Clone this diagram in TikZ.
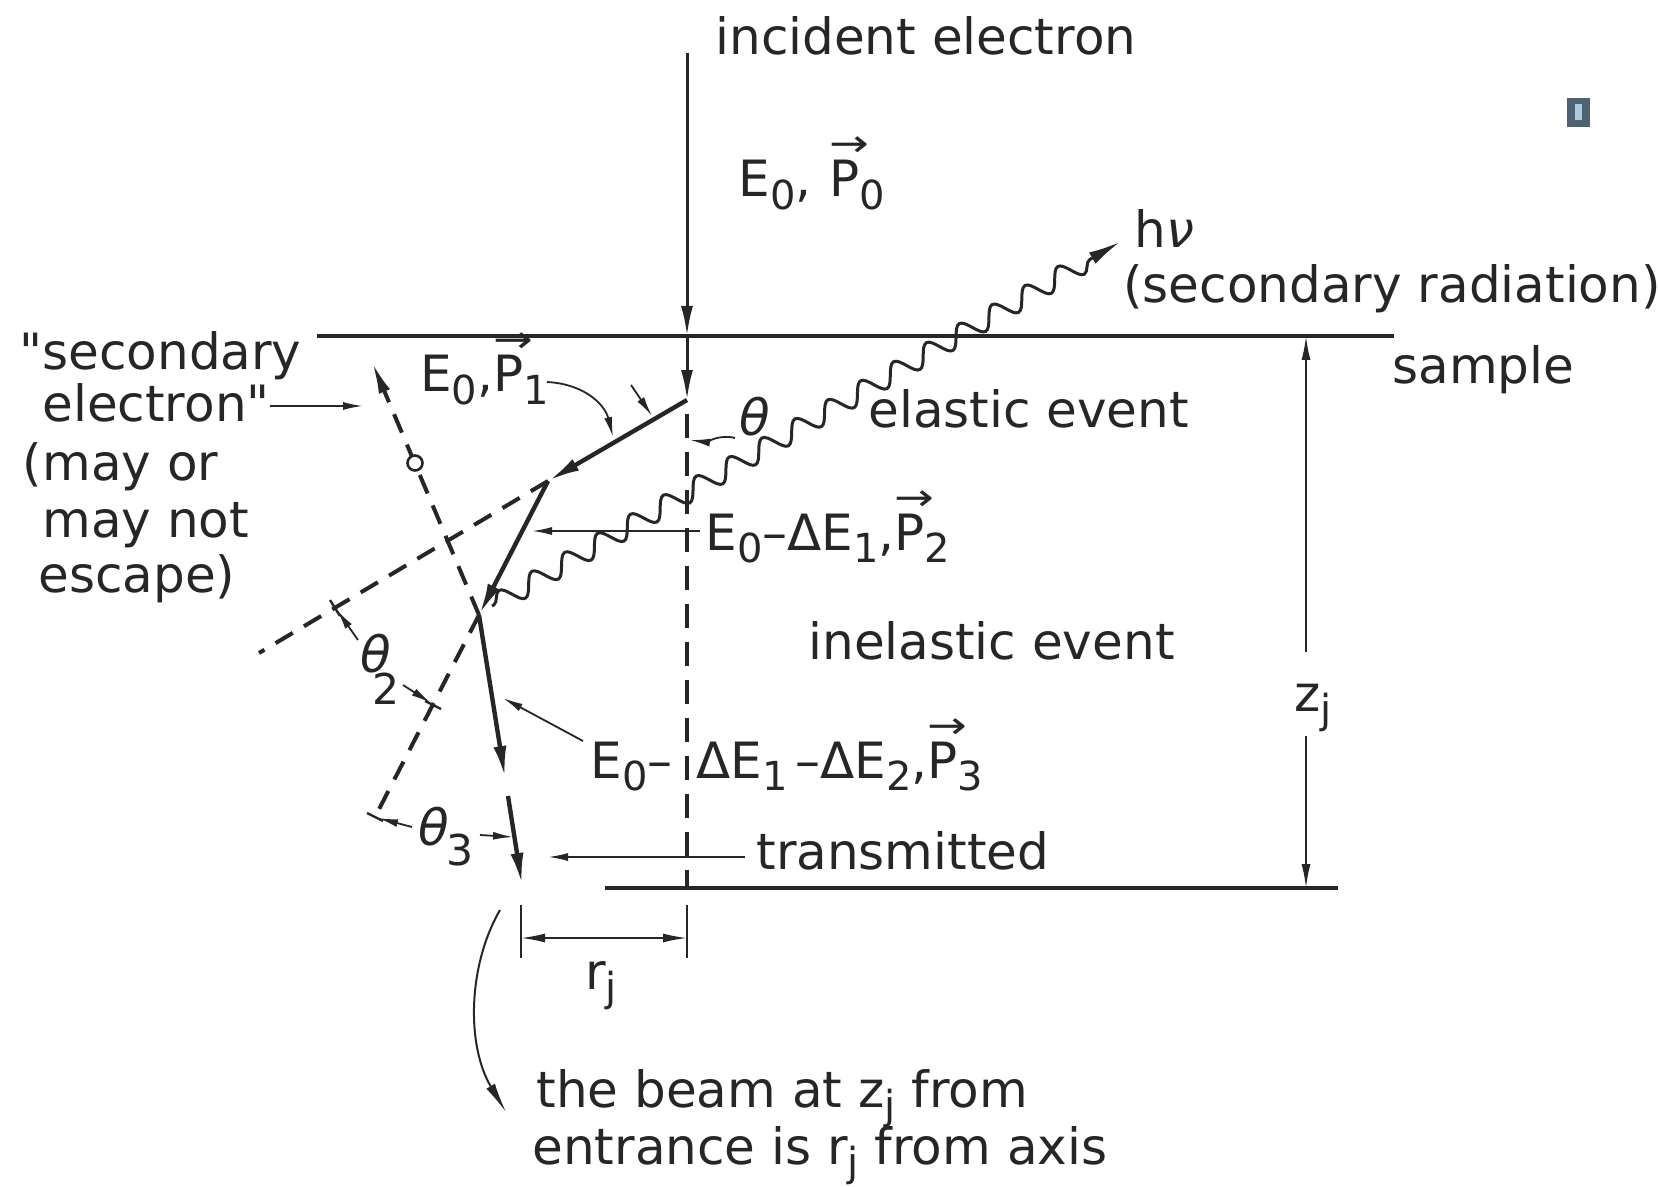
\documentclass[tikz,border=0pt]{standalone}
\usepackage{fontspec}
\setmainfont{DejaVu Sans}[Ligatures=TeXOff]
\usetikzlibrary{arrows.meta,decorations.pathmorphing}
\definecolor{inkc}{HTML}{262626}
\definecolor{sqout}{HTML}{4E6272}
\definecolor{sqin}{HTML}{A9CBE4}
\newcommand\sub[1]{\raisebox{-0.45ex}{\scalebox{0.8}{#1}}}
\newcommand\vP{\leavevmode\rlap{\raisebox{0.8em}{\scalebox{0.95}[0.75]{→}}}P}
\newcommand\thet{\textit{θ}}
\begin{document}
\begin{tikzpicture}[x=0.5pt,y=-0.5pt,
  every node/.style={inner sep=0pt, text=inkc},
  lbl/.style={anchor=base west, font=\fontsize{25}{28}\selectfont},
  surf/.style={draw=inkc, line width=1.8pt},
  beam/.style={draw=inkc, line width=2.2pt, -{Latex[length=16pt,width=6.5pt]}},
  inc/.style={draw=inkc, line width=1.5pt, -{Latex[length=15pt,width=6pt]}},
  dashln/.style={draw=inkc, line width=2pt, dash pattern=on 10pt off 6.5pt},
  axisln/.style={draw=inkc, line width=2pt, dash pattern=on 12pt off 7pt},
  pointer/.style={draw=inkc, line width=0.9pt, -{Latex[length=10pt,width=4pt]}},
  dimarrow/.style={draw=inkc, line width=0.9pt, -{Latex[length=12pt,width=4.5pt]}},
  tickln/.style={draw=inkc, line width=1.2pt},
]
\fill[white] (0,0) rectangle (1658,1187);
\useasboundingbox (0,0) rectangle (1658,1187);

% key points
\coordinate (top) at (687,53);
\coordinate (s0) at (687,336);
\coordinate (p1) at (687,400);
\coordinate (p2) at (548,481);
\coordinate (p3) at (479,615);
\coordinate (p4a) at (505,778);
\coordinate (p4b) at (508,796);
\coordinate (p4) at (522,885);
\coordinate (sl) at (317,336); \coordinate (sr) at (1394,336);
\coordinate (bl) at (605,888); \coordinate (br) at (1338,888);
\coordinate (ax0) at (687,414); \coordinate (ax1) at (687,888);
\coordinate (e1) at (259,653);
\coordinate (e2) at (375,817);
\coordinate (sec) at (372,362);
\coordinate (hv) at (1120,242);
\coordinate (w0) at (492,606);

% sample surfaces
\draw[surf] (sl) -- (sr);
\draw[surf] (bl) -- (br);

% incident beam and axis
\draw[inc] (top) -- (s0);
\draw[inc] (s0) -- (p1);
\draw[axisln] (ax0) -- (ax1);

% construction lines
\draw[dashln] (p2) -- (e1);
\draw[dashln] (p3) -- (e2);
\draw[dashln, -{Latex[length=16pt,width=6pt]}] (p3) -- (sec);
\node[circle, draw=inkc, fill=white, line width=1.3pt, minimum size=7.5pt] (elec) at (415,463) {};

% trajectory
\draw[beam] (p1) -- (p2);
\draw[beam] (p2) -- (p3);
\draw[beam] (p3) -- (p4a);
\draw[beam] (p4b) -- (p4);

% photon
\draw[draw=inkc, line width=1.5pt, decorate, decoration={snake, segment length=19pt, amplitude=5pt, pre length=1pt, post length=12pt}, -{Latex[length=16pt,width=6.5pt]}] (w0) -- (hv);

% z_j dimension
\coordinate (zt) at (1306,336); \coordinate (zb) at (1306,888);
\coordinate (zg1) at (1306,652); \coordinate (zg2) at (1306,736);
\draw[dimarrow] (zg1) -- (zt);
\draw[dimarrow] (zg2) -- (zb);
\node[lbl] (zj) at (1294,711) {z\sub{j}};

% r_j dimension
\coordinate (rl0) at (521,905); \coordinate (rl1) at (521,958);
\coordinate (rr0) at (687,905); \coordinate (rr1) at (687,958);
\draw[tickln] (rl0) -- (rl1);
\draw[tickln] (rr0) -- (rr1);
\coordinate (ra) at (521,938); \coordinate (rb) at (687,938);
\draw[draw=inkc, line width=0.9pt, {Latex[length=12pt,width=4.5pt]}-{Latex[length=12pt,width=4.5pt]}] (ra) -- (rb);
\node[lbl] (rj) at (585,989) {r\sub{j}};

% curved pointer to explanation
\coordinate (c0) at (500,910); \coordinate (c1) at (506,1112);
\draw[draw=inkc, line width=1pt, -{Latex[length=15pt,width=5pt]}] (c0) .. controls (468,965) and (466,1045) .. (c1);

% labels
\node[lbl] (inc) at (715,55) {incident electron};
\node[lbl] (E0) at (738,197) {E\sub{0},\hspace{9pt}\vP\sub{0}};
\node[lbl] (hnu) at (1134,248) {h\textit{ν}};
\node[lbl] (secrad) at (1123,303) {(secondary radiation)};
\node[lbl] (sample) at (1392,384) {sample};
\node[lbl] (elastic) at (868,427) {elastic event};
\node[lbl] (th1) at (739,435) {\thet};
\node[lbl] (E1) at (420,392) {E\sub{0},\vP\sub{1}};
\node[lbl] (E2) at (705,550) {E\sub{0}–ΔE\sub{1},\vP\sub{2}};
\node[lbl] (inel) at (808,659) {inelastic event};
\node[lbl] (E3) at (590,778) {E\sub{0}–\hspace{12pt}ΔE\sub{1}\hspace{4pt}–ΔE\sub{2},\vP\sub{3}};
\node[lbl] (trans) at (756,869) {transmitted};
\node[lbl] (beam1) at (536,1107) {the beam at z\sub{j} from};
\node[lbl] (beam2) at (532,1164) {entrance is r\sub{j} from axis};
\node[lbl] (se1) at (42,370) {\llap{"}secondary};
\node[lbl] (se2) at (42,421) {electron"};
\node[lbl] (se3) at (42,480) {\llap{(}may or};
\node[lbl] (se4) at (42,537) {may not};
\node[lbl] (se5) at (38,592) {escape)};
\node[lbl] (th2) at (360,672) {\thet\kern-9pt\raisebox{-16pt}{\scalebox{0.85}{2}}};
\node[lbl] (th3) at (418,845) {\thet\kern-1pt\raisebox{-10pt}{\scalebox{0.85}{3}}};

% pointers
\coordinate (ea0) at (270,406); \coordinate (ea1) at (363,406);
\draw[pointer] (ea0) -- (ea1);
\coordinate (c10) at (547,382); \coordinate (c11) at (613,437);
\draw[pointer] (c10) .. controls (585,384) and (605,405) .. (c11);
\coordinate (t1a) at (631,385); \coordinate (t1b) at (652,416);
\draw[pointer] (t1a) -- (t1b);
\coordinate (t1c) at (735,438); \coordinate (t1d) at (690,440);
\draw[pointer] (t1c) .. controls (720,434) and (705,442) .. (t1d);
\coordinate (a2a) at (700,531); \coordinate (a2b) at (532,531);
\draw[pointer] (a2a) -- (a2b);
\coordinate (a3a) at (583,741); \coordinate (a3b) at (503,698);
\draw[pointer] (a3a) -- (a3b);
\coordinate (ata) at (745,857); \coordinate (atb) at (548,857);
\draw[pointer] (ata) -- (atb);

% theta_2 / theta_3 markers
\coordinate (k1a) at (330,600); \coordinate (k1b) at (340,616);
\draw[tickln] (k1a) -- (k1b);
\coordinate (q1a) at (358,640); \coordinate (q1b) at (337,610);
\draw[pointer] (q1a) -- (q1b);
\coordinate (k2a) at (425,701); \coordinate (k2b) at (441,709);
\draw[tickln] (k2a) -- (k2b);
\coordinate (q2a) at (403,685); \coordinate (q2b) at (431,703);
\draw[pointer] (q2a) -- (q2b);
\coordinate (k3a) at (367,813); \coordinate (k3b) at (383,821);
\draw[tickln] (k3a) -- (k3b);
\coordinate (q3a) at (412,827); \coordinate (q3b) at (378,818);
\draw[pointer] (q3a) -- (q3b);
\coordinate (q4a) at (480,835); \coordinate (q4b) at (513,837);
\draw[pointer] (q4a) -- (q4b);

% small marker at top right
\fill[sqout] (1567,98) rectangle (1590,127);
\fill[sqin] (1575,104) rectangle (1582,120);
\end{tikzpicture}
\end{document}
